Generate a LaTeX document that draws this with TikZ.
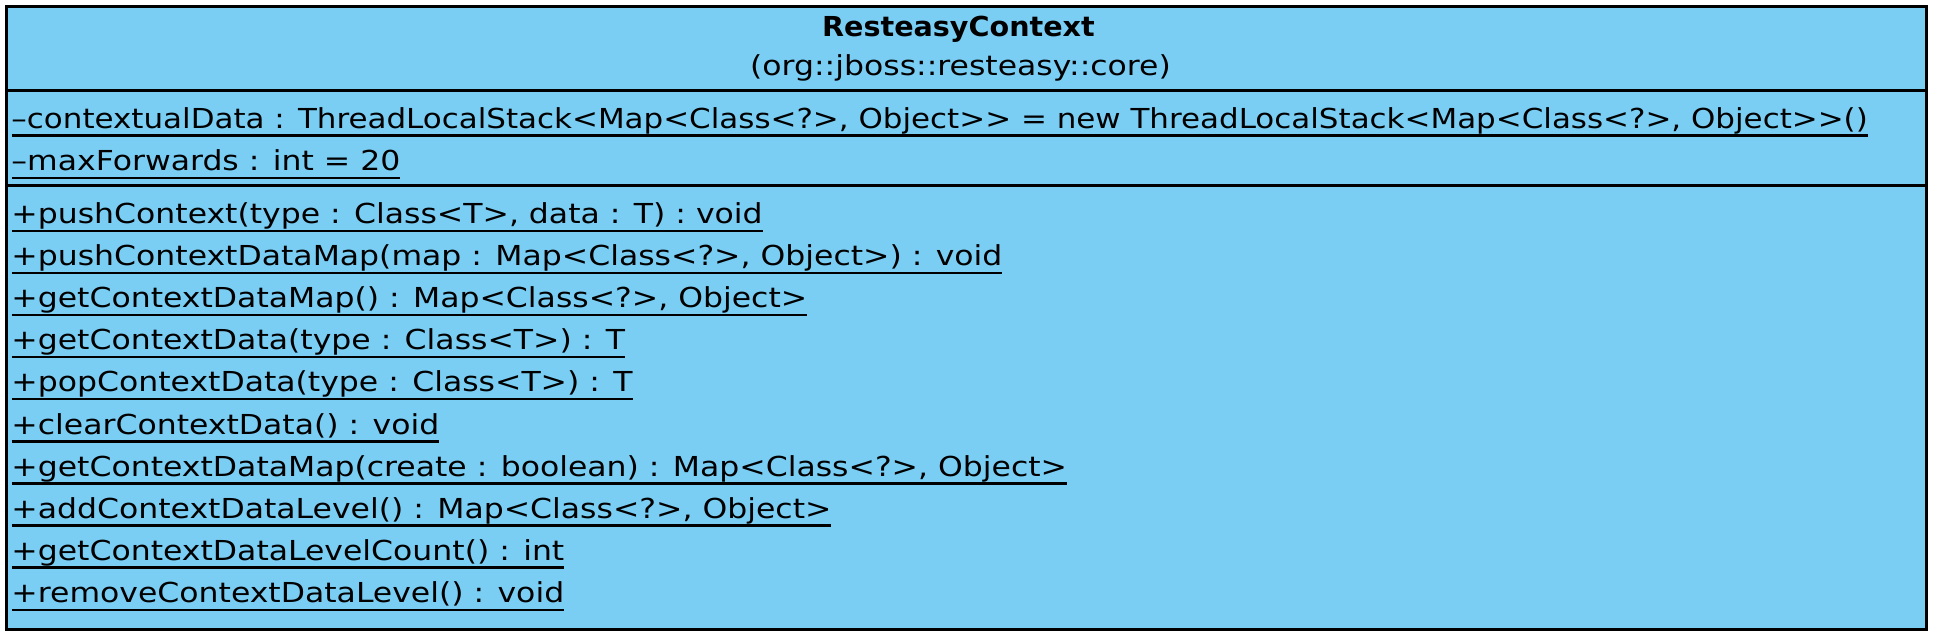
\documentclass[tikz,border=0pt]{standalone}
\usepackage{fontspec}
\setmainfont{DejaVu Sans}[FakeStretch=1.145]
\newfontfamily\titlefont{DejaVu Sans}[FakeStretch=1.04]
\newfontfamily\longfont{DejaVu Sans}[FakeStretch=1.125]
\definecolor{classblue}{RGB}{122,206,244}

\begin{document}
\begin{tikzpicture}[x=1pt,y=-1pt]
    \tikzstyle{cls} = [draw, fill=classblue, line width=3pt,
    inner sep=0pt, minimum width=1920.4pt, minimum height=622.8pt];
    \tikzstyle{txt} = [anchor=base west, inner sep=0pt, outer sep=0pt,
    font=\fontsize{27.5}{33}\selectfont];
    \tikzstyle{ttl} = [anchor=base, inner sep=0pt, outer sep=0pt,
    font=\fontsize{27.5}{33}\selectfont];
    \tikzstyle{sep} = [black, line width=3pt, -];
    \tikzstyle{ul} = [black, line width=2.4pt, -];

    \useasboundingbox (0,0) rectangle (1938,642);

    \node[cls] (box) at (966.5,318.4){};
    \coordinate (s1) at (0,90);
    \coordinate (s2) at (0,185.8);

    \node[ttl] (name) at (958.5,37){\titlefont\bfseries ResteasyContext};
    \node[ttl] (pkg) at (960.5,75){(org::jboss::resteasy::core)};

    \node[txt] (a1) at (11.5,128){\longfont –contextualData : ThreadLocalStack<Map<Class<?>, Object>{}> = new ThreadLocalStack<Map<Class<?>, Object>{}>()};
    \node[txt] (a2) at (11.5,170.7){–maxForwards : int = 20};

    \node[txt] (m1) at (11.5,223.5){+pushContext(type : Class<T>, data : T) : void};
    \node[txt] (m2) at (11.5,265.6){+pushContextDataMap(map : Map<Class<?>, Object>) : void};
    \node[txt] (m3) at (11.5,307.7){+getContextDataMap() : Map<Class<?>, Object>\ };
    \node[txt] (m4) at (11.5,349.8){+getContextData(type : Class<T>) : T};
    \node[txt] (m5) at (11.5,391.9){+popContextData(type : Class<T>) : T};
    \node[txt] (m6) at (11.5,434.0){+clearContextData() : void};
    \node[txt] (m7) at (11.5,476.1){+getContextDataMap(create : boolean) : Map<Class<?>, Object>};
    \node[txt] (m8) at (11.5,518.2){+addContextDataLevel() : Map<Class<?>, Object>\ };
    \node[txt] (m9) at (11.5,560.3){+getContextDataLevelCount() : int};
    \node[txt] (m10) at (11.5,602.4){+removeContextDataLevel() : void};

    \path[sep] (box.west |- s1) edge (box.east |- s1)
               (box.west |- s2) edge (box.east |- s2);

    \path[ul] ([yshift=-7.3pt]a1.base west) edge ([yshift=-7.3pt]a1.base east)
              ([yshift=-7.3pt]a2.base west) edge ([yshift=-7.3pt]a2.base east)
              ([yshift=-7.3pt]m1.base west) edge ([yshift=-7.3pt]m1.base east)
              ([yshift=-7.3pt]m2.base west) edge ([yshift=-7.3pt]m2.base east)
              ([yshift=-7.3pt]m3.base west) edge ([yshift=-7.3pt]m3.base east)
              ([yshift=-7.3pt]m4.base west) edge ([yshift=-7.3pt]m4.base east)
              ([yshift=-7.3pt]m5.base west) edge ([yshift=-7.3pt]m5.base east)
              ([yshift=-7.3pt]m6.base west) edge ([yshift=-7.3pt]m6.base east)
              ([yshift=-7.3pt]m7.base west) edge ([yshift=-7.3pt]m7.base east)
              ([yshift=-7.3pt]m8.base west) edge ([yshift=-7.3pt]m8.base east)
              ([yshift=-7.3pt]m9.base west) edge ([yshift=-7.3pt]m9.base east)
              ([yshift=-7.3pt]m10.base west) edge ([yshift=-7.3pt]m10.base east);

  \end{tikzpicture}
\end{document}
